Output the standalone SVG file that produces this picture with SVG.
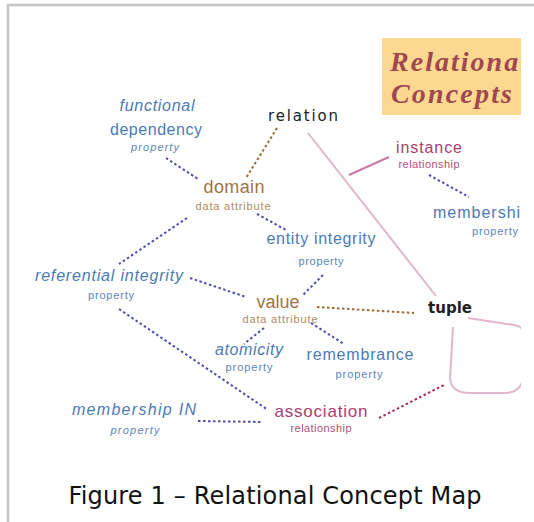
<svg xmlns="http://www.w3.org/2000/svg" width="534" height="522" viewBox="0 0 534 522">
<style>
text{font-family:"Liberation Sans",Arial,sans-serif;text-anchor:middle}
.b{fill:#4b7bb4;font-size:16px}
.bs{fill:#5a86bb;font-size:11px}
.br{fill:#a2743f;font-size:18px}
.brs{fill:#b08a5c;font-size:11px}
.m{fill:#a8406e;font-size:17px}
.ms{fill:#b0507c;font-size:11px}
.k{fill:#222;font-family:"DejaVu Sans",Verdana,sans-serif;font-size:15px}
.it{font-style:italic}
.ttl{font-family:"Liberation Serif","Times New Roman",serif;font-weight:bold;font-style:italic;font-size:28px;text-anchor:start;fill:#a04850}
.dot{fill:none;stroke:#4e4cb0;stroke-width:2;stroke-dasharray:2.5 2.5}
.dotbr{fill:none;stroke:#a06a32;stroke-width:2;stroke-dasharray:2.5 2.5}
.dotm{fill:none;stroke:#a0285e;stroke-width:2;stroke-dasharray:2.5 2.5}
.pink{fill:none;stroke:#e2b6cc;stroke-width:2}
.pinkm{fill:none;stroke:#c87aa2;stroke-width:2}
</style>
<defs>
<clipPath id="cl"><rect x="0" y="0" width="521" height="522"/></clipPath>
<clipPath id="tb"><rect x="382" y="38" width="139" height="77"/></clipPath>
</defs>
<rect x="0" y="0" width="534" height="522" fill="#fff"/>
<path d="M8,523 V5 H534" fill="none" stroke="#c4c4c4" stroke-width="2.5"/>
<g id="title">
<rect x="382" y="38" width="139" height="77" fill="#fdd890"/>
<g clip-path="url(#tb)">
<text class="ttl" x="390" y="71" textLength="138">Relational</text>
<text class="ttl" x="391" y="103" textLength="121">Concepts</text>
</g>
</g>
<g clip-path="url(#cl)">
<g id="connectors">
<path class="pink" d="M308,133 L436,296"/>
<path class="pinkm" d="M349,175 L389,157"/>
<path class="pink" d="M468,318 L514,325 Q527,327 526,342 L524,375 Q522,392 506,393 L470,393 Q451,393 450,378 L453,327"/>
<path class="dotbr" d="M277,128 L246,178"/>
<path class="dot" d="M166,158 L198,179"/>
<path class="dot" d="M257,214 L286,230"/>
<path class="dot" d="M187,218 L119,264"/>
<path class="dot" d="M190,278 L246,297"/>
<path class="dot" d="M323,275 L302,296"/>
<path class="dotbr" d="M317,307 L414,313"/>
<path class="dot" d="M264,328 L244,344"/>
<path class="dot" d="M311,323 L344,344"/>
<path class="dot" d="M119,309 L268,410"/>
<path class="dot" d="M198,421 L263,422"/>
<path class="dotm" d="M379,418 L444,385"/>
<path class="dot" d="M429,175 L469,197"/>
</g>
<g id="relation"><text class="k" x="303" y="121" textLength="70">relation</text></g>
<g id="functional-dependency">
<text class="b it" x="157" y="111" textLength="75">functional</text>
<text class="b" x="156" y="135" textLength="92">dependency</text>
<text class="bs it" x="155" y="151" textLength="48">property</text>
</g>
<g id="domain">
<text class="br" x="234" y="193" textLength="61">domain</text>
<text class="brs" x="233" y="210" textLength="75">data attribute</text>
</g>
<g id="instance">
<text class="m" style="font-size:16px" x="429" y="153" textLength="66">instance</text>
<text class="ms" x="429" y="168" textLength="61">relationship</text>
</g>
<g id="membership">
<text class="b" style="text-anchor:start" x="433" y="218" textLength="97">membership</text>
<text class="bs" x="495" y="235" textLength="46">property</text>
</g>
<g id="entity-integrity">
<text class="b" x="321" y="244" textLength="109">entity integrity</text>
<text class="bs" x="321" y="265" textLength="45">property</text>
</g>
<g id="referential-integrity">
<text class="b it" x="109" y="281" textLength="148">referential integrity</text>
<text class="bs" x="111" y="299" textLength="46">property</text>
</g>
<g id="value">
<text class="br" x="278" y="308" textLength="43">value</text>
<text class="brs" x="280" y="323" textLength="75">data attribute</text>
</g>
<g id="tuple"><text class="k" style="font-weight:bold" x="450" y="313" textLength="44">tuple</text></g>
<g id="atomicity">
<text class="b it" x="249" y="355" textLength="68">atomicity</text>
<text class="bs" x="249" y="371" textLength="47">property</text>
</g>
<g id="remembrance">
<text class="b" x="360" y="360" textLength="107">remembrance</text>
<text class="bs" x="359" y="378" textLength="47">property</text>
</g>
<g id="membership-in">
<text class="b it" x="134" y="415" textLength="124">membership IN</text>
<text class="bs it" x="135" y="434" textLength="49">property</text>
</g>
<g id="association">
<text class="m" x="321" y="417" textLength="93">association</text>
<text class="ms" x="321" y="432" textLength="61">relationship</text>
</g>
</g>
<text x="275" y="504" style="font-family:'DejaVu Sans',Verdana,sans-serif;font-size:24px;fill:#111" textLength="413">Figure 1 – Relational Concept Map</text>
</svg>
